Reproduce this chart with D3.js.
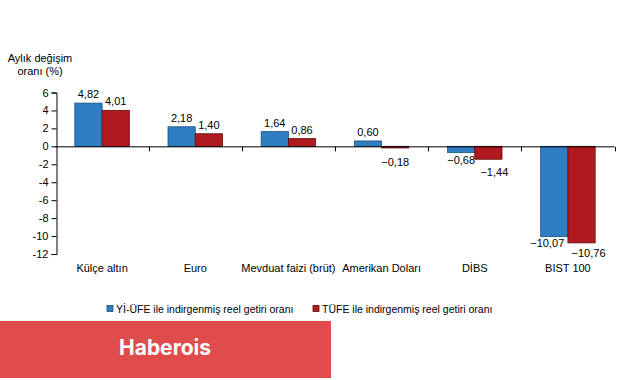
<!DOCTYPE html>
<html><head><meta charset="utf-8">
<script src="https://cdn.jsdelivr.net/npm/d3@7"></script>
<style>body{margin:0;background:#fff}svg{display:block}text{font-family:"Liberation Sans",Arial,sans-serif;fill:#000}</style>
</head><body>
<svg id="c" width="641" height="380"></svg>
<script>
const categories = ["Külçe altın","Euro","Mevduat faizi (brüt)","Amerikan Doları","DİBS","BIST 100"];
const seriesNames = ["Yİ-ÜFE ile indirgenmiş reel getiri oranı","TÜFE ile indirgenmiş reel getiri oranı"];
const yiufe = [4.82,2.18,1.64,0.60,-0.68,-10.07];
const tufe = [4.01,1.40,0.86,-0.18,-1.44,-10.76];
const yTicks = [6,4,2,0,-2,-4,-6,-8,-10,-12];
const colors = ["#2f7ec3","#b0191d"];
const strokes = ["#1d4f7e","#5a0d0f"];

const svg = d3.select("#c");
const x = d3.scaleBand().domain(categories).range([55.5,614.5]).paddingInner(0).paddingOuter(0);
const y = d3.scaleLinear().domain([-12,6]).range([254,92.5]);
const x1 = d3.scaleBand().domain([0,1]).range([0,x.bandwidth()]).paddingInner(0).paddingOuter(0.71);
const fmt = v => d3.format(".2f")(v).replace(".",",");

// y axis
const yAxis = svg.append("g").attr("transform","translate(56.5,0)")
  .call(d3.axisLeft(y).tickValues(yTicks).tickSize(5).tickFormat(d=>String(d)));
yAxis.select(".domain").attr("stroke","#000");
yAxis.selectAll(".tick line").attr("stroke","#000");
yAxis.selectAll("text").attr("font-size",11).attr("x",-8).style("font-family","'Liberation Sans',Arial,sans-serif");

// y title
svg.append("text").attr("x",40).attr("y",62).attr("text-anchor","middle").attr("font-size",11).text("Aylık değişim");
svg.append("text").attr("x",40).attr("y",75).attr("text-anchor","middle").attr("font-size",11).text("oranı (%)");

// label placement for negative values (avoid overlaps, as in the original)
function negLabelOffset(v,k){
  if (Math.abs(v) < 1) return {dx:0, dy: k===1 ? 18 : 12};
  if (Math.abs(v) < 5) return {dx: k===1 ? 6 : 0, dy:17};
  return {dx: k===0 ? -7 : 7, dy: k===0 ? 10 : 14};
}

// bars
const data = categories.map((c,i)=>({c, v:[yiufe[i],tufe[i]]}));
const g = svg.append("g");
data.forEach(d=>{
  d.v.forEach((v,k)=>{
    const bx = x(d.c)+x1(k);
    g.append("rect").attr("x",bx).attr("width",x1.bandwidth())
      .attr("y",y(Math.max(0,v))).attr("height",Math.abs(y(v)-y(0)))
      .attr("fill",colors[k]).attr("stroke",strokes[k]).attr("stroke-width",0.8);
    const o = v>=0 ? {dx:0,dy:-5} : negLabelOffset(v,k);
    g.append("text").attr("x",bx+x1.bandwidth()/2+o.dx)
      .attr("y", y(v)+o.dy)
      .attr("text-anchor","middle").attr("font-size",11).text(fmt(v));
  });
});

// x axis
const xAxis = svg.append("g").attr("transform",`translate(0,${y(0)})`);
xAxis.append("line").attr("x1",55.5).attr("x2",614.5).attr("y1",0.5).attr("y2",0.5).attr("stroke","#000");
[...categories.map(c=>x(c)),x.range()[1]].slice(1).forEach(t=>{
  xAxis.append("line").attr("x1",Math.round(t)+0.5).attr("x2",Math.round(t)+0.5).attr("y1",0.5).attr("y2",5).attr("stroke","#000");
});
categories.forEach(c=>{
  svg.append("text").attr("x",x(c)+x.bandwidth()/2).attr("y",272).attr("text-anchor","middle").attr("font-size",11).text(c);
});

// legend
const leg = [{x:107,t:seriesNames[0]},{x:313,t:seriesNames[1]}];
leg.forEach((l,k)=>{
  svg.append("rect").attr("x",l.x).attr("y",305.5).attr("width",6).attr("height",6).attr("fill",colors[k]).attr("stroke",strokes[k]).attr("stroke-width",0.8);
  svg.append("text").attr("x",l.x+9).attr("y",313).attr("font-size",10.5).text(l.t);
});

// banner
svg.append("rect").attr("x",0).attr("y",321).attr("width",331).attr("height",57).attr("fill","#e04c4c");
svg.append("text").attr("x",165).attr("y",355).attr("text-anchor","middle").attr("font-size",21).attr("font-weight","bold")
  .style("fill","#fff").style("font-family","Inter,'Open Sans',sans-serif").text("Haberois");
</script>
</body></html>
